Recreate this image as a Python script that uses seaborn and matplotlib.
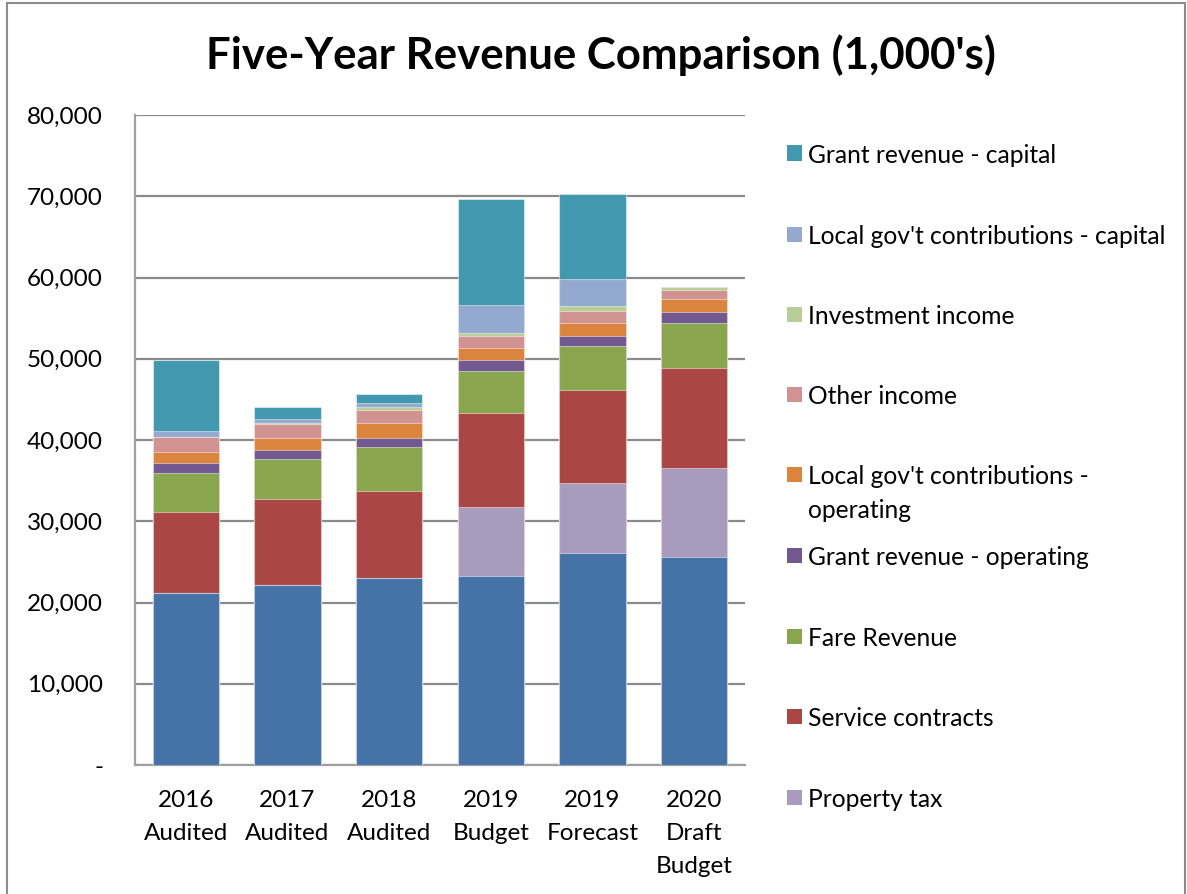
import matplotlib
matplotlib.use("Agg")
import matplotlib.pyplot as plt
from matplotlib.patches import Rectangle
import numpy as np
import pandas as pd
import seaborn as sns

# Revenue by source, in thousands of dollars
categories = ["2016\nAudited", "2017\nAudited", "2018\nAudited",
              "2019\nBudget", "2019\nForecast", "2020\nDraft\nBudget"]

sales_tax = [21130, 22110, 23050, 23300, 26130, 25640]
property_tax = [0, 0, 0, 8410, 8540, 10960]
service_contracts = [10050, 10630, 10710, 11610, 11520, 12220]
fare_revenue = [4800, 4880, 5340, 5170, 5380, 5540]
grant_operating = [1190, 1190, 1190, 1320, 1270, 1390]
local_operating = [1390, 1400, 1770, 1470, 1520, 1570]
other_income = [1770, 1760, 1670, 1560, 1560, 1100]
investment_income = [0, 120, 330, 290, 530, 410]
local_capital = [780, 495, 540, 3490, 3370, 0]
grant_capital = [8740, 1435, 1020, 13000, 10460, 0]

# stacking order, bottom to top
series_names = ["Sales tax", "Property tax", "Service contracts", "Fare Revenue",
                "Grant revenue - operating", "Local gov't contributions - operating",
                "Other income", "Investment income",
                "Local gov't contributions - capital", "Grant revenue - capital"]
series_values = [sales_tax, property_tax, service_contracts, fare_revenue,
                 grant_operating, local_operating, other_income, investment_income,
                 local_capital, grant_capital]
series_colors = ["#4572A7", "#A99BBD", "#AA4643", "#89A54E", "#71588F",
                 "#DB843D", "#D19392", "#B9CD96", "#93A9CF", "#4198AF"]

# legend entries (top to bottom) and their labels as wrapped on the chart
legend_names = ["Grant revenue - capital", "Local gov't contributions - capital",
                "Investment income", "Other income",
                "Local gov't contributions - operating", "Grant revenue - operating",
                "Fare Revenue", "Service contracts", "Property tax"]
legend_labels = ["Grant revenue - capital", "Local gov't contributions - capital",
                 "Investment income", "Other income",
                 "Local gov't contributions -\noperating", "Grant revenue - operating",
                 "Fare Revenue", "Service contracts", "Property tax"]

sns.set_theme(style="white")
plt.rcParams["font.family"] = ["Lato", "DejaVu Sans"]

W, H = 1187, 894
fig = plt.figure(figsize=(W / 100, H / 100), dpi=100)
ax = fig.add_axes([135 / W, 1 - 765 / H, 610 / W, 650 / H])

df = pd.DataFrame({name: vals for name, vals in zip(series_names, series_values)},
                  index=categories)
cum = df.cumsum(axis=1)

# draw cumulative totals from the top layer down so each segment stays visible
for name, color in reversed(list(zip(series_names, series_colors))):
    sns.barplot(x=list(categories), y=cum[name].values, color=color, ax=ax,
                width=0.65, saturation=1, edgecolor=(1, 1, 1, 0.45),
                linewidth=0.8, zorder=3)

grid_c = "#8A8A8A"
ax.set_ylim(0, 80000)
ax.set_xlim(-0.5, 5.5)
yt = np.arange(0, 80001, 10000)
ax.set_yticks(yt)
ax.set_yticklabels(["-" if v == 0 else f"{v:,}" for v in yt])
ax.yaxis.grid(True, color=grid_c, linewidth=1.6, zorder=0)
ax.set_axisbelow(True)
for s in ["top", "right"]:
    ax.spines[s].set_visible(False)
for s in ["left", "bottom"]:
    ax.spines[s].set_color("#A0A0A0")
    ax.spines[s].set_linewidth(1.6)
ax.tick_params(axis="y", length=0, pad=23, labelsize=17.5, labelcolor="black")
ax.tick_params(axis="x", length=0, pad=18, labelsize=17.5, labelcolor="black")
for lab in ax.get_xticklabels():
    lab.set_linespacing(1.72)
ax.set_xlabel("")
ax.set_ylabel("")

# title
fig.text(601 / W, 1 - 55 / H, "Five-Year Revenue Comparison (1,000's)",
         ha="center", va="center", fontsize=31.5, fontweight="bold", color="black")

# legend
color_of = dict(zip(series_names, series_colors))
legend_y = [153, 234, 314, 394, 474, 555, 636, 716, 797]
for name, label, yc in zip(legend_names, legend_labels, legend_y):
    fig.patches.append(Rectangle((787 / W, 1 - (yc + 7.5) / H), 15 / W, 15 / H,
                                 transform=fig.transFigure, facecolor=color_of[name],
                                 edgecolor="none"))
    fig.text(808 / W, 1 - (yc - 9) / H, label, ha="left", va="top",
             fontsize=17.7, color="black", linespacing=1.6)

# chart border
fig.patches.append(Rectangle((7 / W, -0.01), 1178 / W, 1 - 3 / H + 0.01,
                             transform=fig.transFigure, facecolor="none",
                             edgecolor="#8C8C8C", linewidth=1.5))

fig.savefig("out.png", dpi=100)
